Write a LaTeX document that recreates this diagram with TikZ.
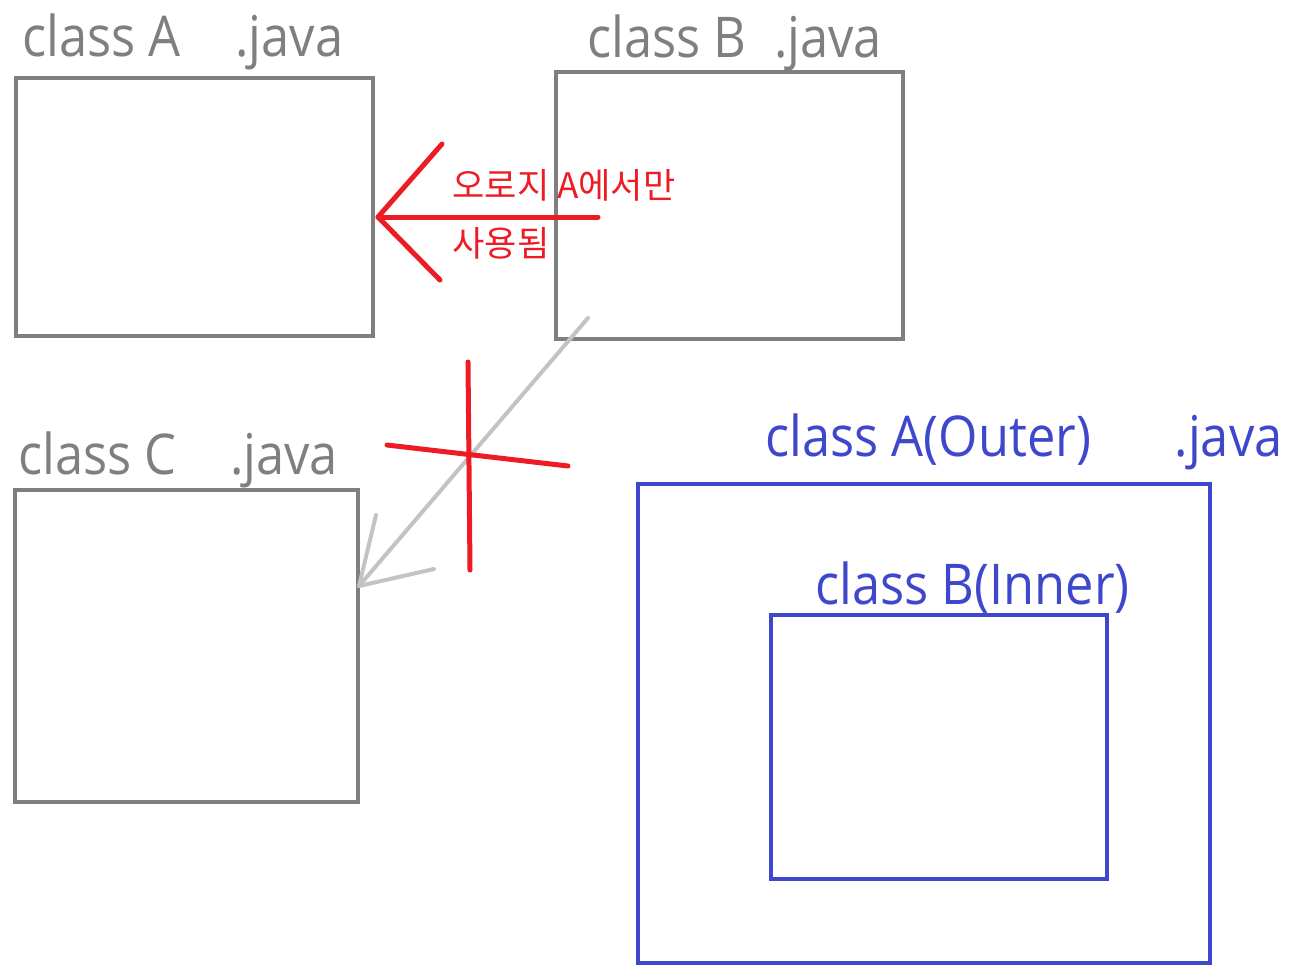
\documentclass[tikz,border=0pt]{standalone}
\usepackage{fontspec}
\setmainfont{Open Sans}[FakeStretch=0.9]
\newfontfamily\kor{Noto Sans CJK KR}
\usepackage{xcolor}
\definecolor{boxgray}{RGB}{127,127,127}
\definecolor{lightgray}{RGB}{195,195,195}
\definecolor{penred}{RGB}{237,28,36}
\definecolor{inkblue}{RGB}{63,72,204}
\usepackage{tikz}
\usetikzlibrary{positioning}

\begin{document}
\begin{tikzpicture}[
        x=0.02cm, y=-0.02cm,
        cbox/.style={rectangle, draw=#1, line width=0.085cm, inner sep=0pt},
        ctitle/.style={anchor=base west, inner sep=0pt, text=#1, font=\fontsize{32}{38}\selectfont},
        note/.style={anchor=base west, inner sep=0pt, text=penred, font=\kor\fontsize{20}{24}\selectfont},
        pen/.style={line width=0.1cm, line cap=round, line join=round, #1}
    ]
        \useasboundingbox (0,0) rectangle (1295,978);

        \node[cbox=boxgray, minimum width=7.14cm, minimum height=5.16cm] (clsA) at (194.5,207) {};
        \node[cbox=boxgray, minimum width=6.94cm, minimum height=5.34cm] (clsB) at (729.5,205.5) {};
        \node[cbox=boxgray, minimum width=6.86cm, minimum height=6.24cm] (clsC) at (186.5,646) {};

        \node[cbox=inkblue, minimum width=11.44cm, minimum height=9.58cm] (outer) at (924,723.5) {};
        \node[cbox=inkblue, minimum width=6.72cm, minimum height=5.28cm] (inner) at (939,747) {};

        \node[ctitle=boxgray] (titleA) at (22,56) {class A\hspace{1.09cm}.java};
        \node[ctitle=boxgray] (titleB) at (587,57) {class B\hspace{0.55cm}.java};
        \node[ctitle=boxgray] (titleC) at (18,474) {class C\hspace{1.07cm}.java};
        \node[ctitle=inkblue] (titleOuter) at (765,456) {class A(Outer)\hspace{1.67cm}.java};
        \node[ctitle=inkblue] (titleInner) at (815,604) {class B(Inner)};

        \node[note] (only) at (452,198) {오로지 A에서만};
        \node[note] (used) at (452,256) {사용됨};

        % B -> A
        \coordinate (tailB) at (598,217);
        \coordinate (tipA) at (378,217);
        \coordinate (barbA1) at (442,144);
        \coordinate (barbA2) at (440,280);
        \draw[pen=penred] (tailB) -- (tipA);
        \draw[pen=penred] (barbA1) -- (tipA) -- (barbA2);

        % B -> C, crossed out
        \coordinate (tailC) at (588,318);
        \coordinate (tipC) at (359,586);
        \coordinate (barbC1) at (376,515);
        \coordinate (barbC2) at (434,569);
        \draw[pen=lightgray, line width=0.08cm] (tailC) -- (tipC);
        \draw[pen=lightgray, line width=0.08cm] (barbC1) -- (tipC) -- (barbC2);

        \coordinate (crossT) at (468,362);
        \coordinate (crossB) at (470,570);
        \coordinate (crossL) at (387,445);
        \coordinate (crossR) at (568,466);
        \draw[pen=penred] (crossT) -- (crossB);
        \draw[pen=penred] (crossL) -- (crossR);
    \end{tikzpicture}
\end{document}
